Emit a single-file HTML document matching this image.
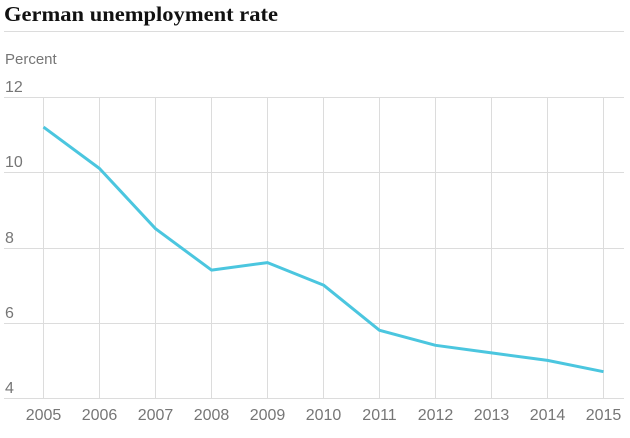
<!DOCTYPE html>
<html><head><style>
body{margin:0;background:#fff;width:630px;height:433px;overflow:hidden}
</style></head><body>
<svg width="630" height="433" xmlns="http://www.w3.org/2000/svg">
<text x="4" y="21" font-family="Liberation Serif, serif" font-weight="bold" font-size="21" fill="#111" textLength="274" lengthAdjust="spacingAndGlyphs">German unemployment rate</text>
<line x1="4" y1="31.5" x2="624" y2="31.5" stroke="#dcdcdc" stroke-width="1"/>
<text x="5" y="64" font-family="Liberation Sans, sans-serif" font-size="15" fill="#767676">Percent</text>
<g stroke="#dcdcdc" stroke-width="1">
<line x1="4" y1="97.5" x2="624" y2="97.5"/>
<line x1="4" y1="172.5" x2="624" y2="172.5"/>
<line x1="4" y1="248.5" x2="624" y2="248.5"/>
<line x1="4" y1="323.5" x2="624" y2="323.5"/>
<line x1="4" y1="398.5" x2="624" y2="398.5"/>
<line x1="43.5" y1="97" x2="43.5" y2="398"/>
<line x1="99.5" y1="97" x2="99.5" y2="398"/>
<line x1="155.5" y1="97" x2="155.5" y2="398"/>
<line x1="211.5" y1="97" x2="211.5" y2="398"/>
<line x1="267.5" y1="97" x2="267.5" y2="398"/>
<line x1="323.5" y1="97" x2="323.5" y2="398"/>
<line x1="379.5" y1="97" x2="379.5" y2="398"/>
<line x1="435.5" y1="97" x2="435.5" y2="398"/>
<line x1="491.5" y1="97" x2="491.5" y2="398"/>
<line x1="547.5" y1="97" x2="547.5" y2="398"/>
<line x1="603.5" y1="97" x2="603.5" y2="398"/>
</g>
<g font-family="Liberation Sans, sans-serif" font-size="16" fill="#767676">
<text x="5" y="92">12</text>
<text x="5" y="167">10</text>
<text x="5" y="243">8</text>
<text x="5" y="318">6</text>
<text x="5" y="393">4</text>
</g>
<g font-family="Liberation Sans, sans-serif" font-size="16" fill="#767676" text-anchor="middle">
<text x="43.5" y="420">2005</text><text x="99.5" y="420">2006</text><text x="155.5" y="420">2007</text>
<text x="211.5" y="420">2008</text><text x="267.5" y="420">2009</text><text x="323.5" y="420">2010</text>
<text x="379.5" y="420">2011</text><text x="435.5" y="420">2012</text><text x="491.5" y="420">2013</text>
<text x="547.5" y="420">2014</text><text x="603.5" y="420">2015</text>
</g>
<polyline fill="none" stroke="#4bc6df" stroke-width="3" stroke-linejoin="round" points="43.5,127.1 99.5,168.5 155.5,228.7 211.5,270.1 267.5,262.6 323.5,285.1 379.5,330.3 435.5,345.3 491.5,352.9 547.5,360.4 603.5,371.7"/>
</svg>
</body></html>
